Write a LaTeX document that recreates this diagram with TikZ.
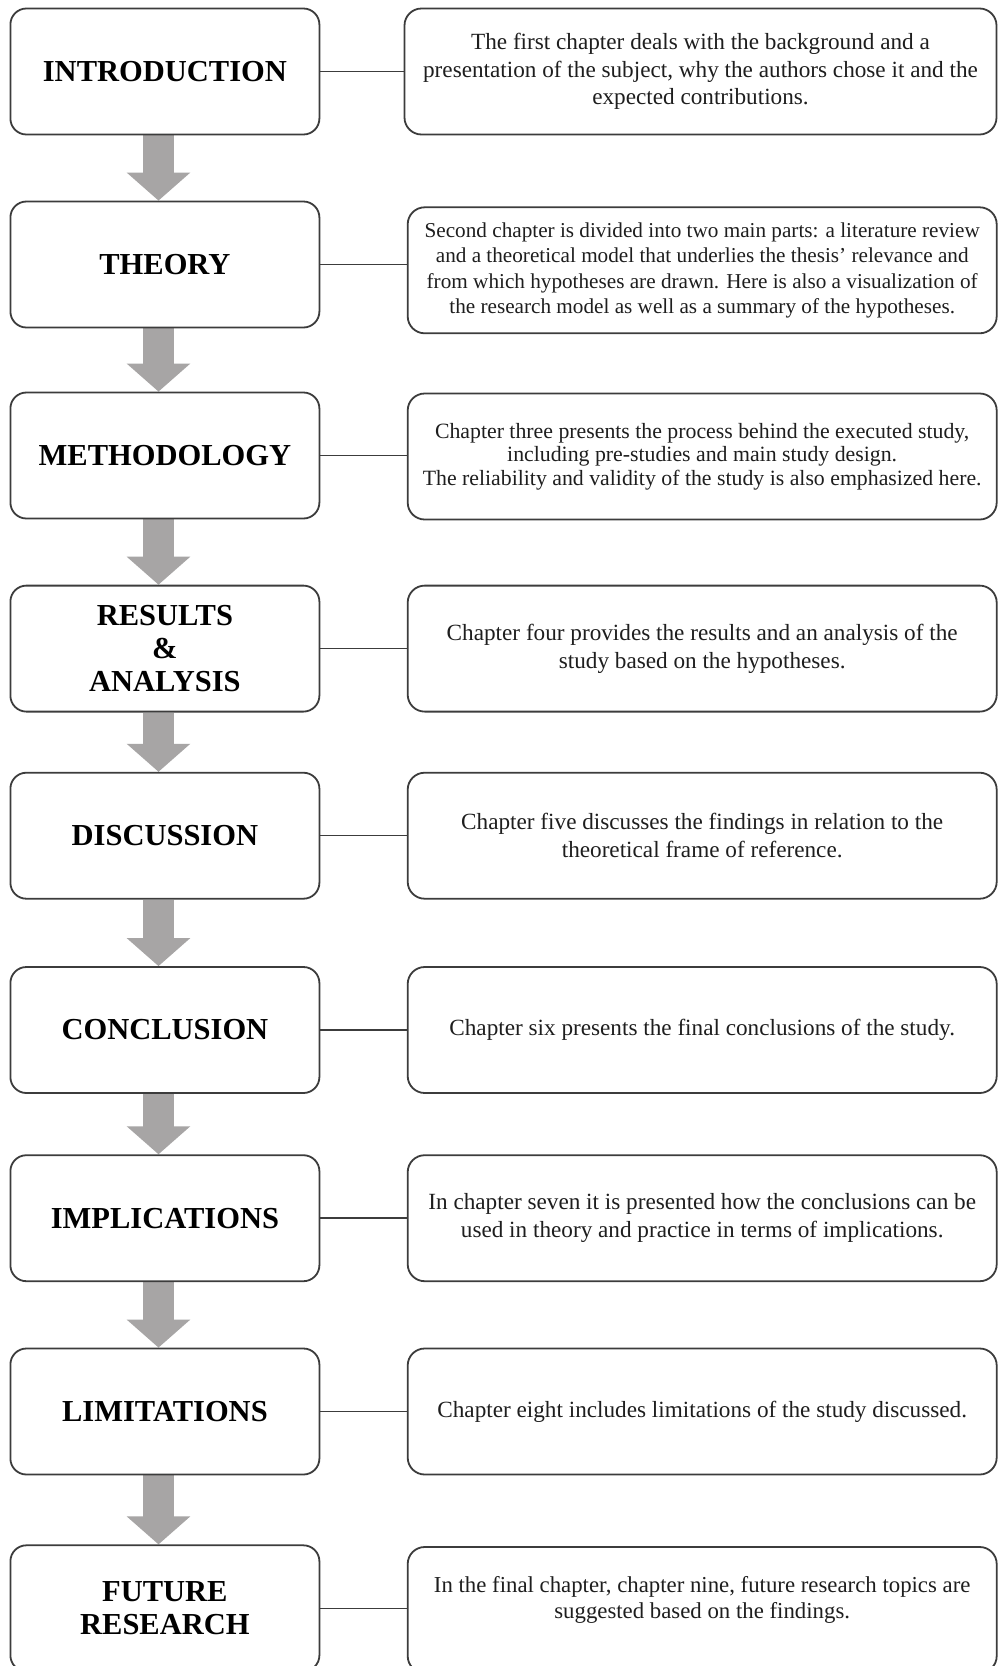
\documentclass[tikz,border=0pt]{standalone}
\usepackage{fontspec}
\setmainfont{Liberation Serif}
\usetikzlibrary{arrows.meta}
\pgfdeclarelayer{bg}
\pgfsetlayers{bg,main}
\definecolor{boxline}{HTML}{3C3C3C}
\definecolor{flowgray}{HTML}{A7A5A5}
\definecolor{notetext}{HTML}{1E1E1E}

\begin{document}
\begin{tikzpicture}[x=1pt,y=-1pt,
  stage/.style={draw=boxline, line width=1.8pt, rounded corners=16pt,
    minimum width=309pt, minimum height=126pt, inner sep=0pt, align=center,
    font=\fontsize{30.5}{33}\selectfont\bfseries, text=black},
  note/.style={draw=boxline, line width=1.8pt, rounded corners=17pt,
    minimum width=589pt, minimum height=126pt, inner sep=0pt, align=center,
    font=\fontsize{23.2}{27.6}\selectfont, text=notetext},
  link/.style={draw=boxline, line width=1.5pt},
  flow/.style={draw=flowgray, line width=31pt,
    -{Triangle[width=62pt,length=28pt]}},
]
\useasboundingbox (0,0) rectangle (997,1666);

% chapter boxes (left column)
\node[stage] (s1) at (164.9,71.5)   {INTRODUCTION};
\node[stage] (s2) at (164.9,264.5)  {THEORY};
\node[stage] (s3) at (164.9,455.5)  {METHODOLOGY};
\node[stage] (s4) at (164.9,648.6)  {RESULTS\\\&\\ANALYSIS};
\node[stage] (s5) at (164.9,835.7)  {DISCUSSION};
\node[stage] (s6) at (164.9,1030)   {CONCLUSION};
\node[stage] (s7) at (164.9,1218.2) {IMPLICATIONS};
\node[stage] (s8) at (164.9,1411.5) {LIMITATIONS};
\node[stage] (s9) at (164.9,1608.3) {FUTURE\\RESEARCH};

% chapter descriptions (right column)
\node[note, minimum width=592pt] (n1) at (700.5,71.5)
  {The first chapter deals with the background and a\\
   presentation of the subject, why the authors chose it and the\\
   expected contributions.};
\node[note, font=\fontsize{21.2}{25.5}\selectfont] (n2) at (702.2,270.3)
  {Second chapter is divided into two main parts: a literature review\\
   and a theoretical model that underlies the thesis’ relevance and\\
   from which hypotheses are drawn. Here is also a visualization of\\
   the research model as well as a summary of the hypotheses.};
\node[note, font=\fontsize{21.8}{23.4}\selectfont] (n3) at (702.2,456.5)
  {Chapter three presents the process behind the executed study,\\
   including pre-studies and main study design.\\
   The reliability and validity of the study is also emphasized here.};
\node[note] (n4) at (702.2,648.6)
  {Chapter four provides the results and an analysis of the\\
   study based on the hypotheses.};
\node[note] (n5) at (702.2,835.7)
  {Chapter five discusses the findings in relation to the\\
   theoretical frame of reference.};
\node[note] (n6) at (702.2,1030)
  {Chapter six presents the final conclusions of the study.};
\node[note] (n7) at (702.2,1218.2)
  {In chapter seven it is presented how the conclusions can be\\
   used in theory and practice in terms of implications.};
\node[note] (n8) at (702.2,1411.5)
  {Chapter eight includes limitations of the study discussed.};
\node[note, font=\fontsize{22.8}{26.6}\selectfont, text depth=25pt] (n9) at (702.2,1610)
  {In the final chapter, chapter nine, future research topics are\\
   suggested based on the findings.};

% links between each chapter and its description
\foreach \i in {1,...,9}
  \draw[link] (s\i.east) -- (s\i.east -| n\i.west);

% downward flow arrows, behind the boxes
\coordinate (axis) at (158.5,0);
\begin{pgfonlayer}{bg}
  \fill[white] (0,0) rectangle (997,1666);
  \foreach \i/\j in {1/2,2/3,3/4,4/5,5/6,6/7,7/8,8/9}
    \draw[flow] (s\i.south -| axis) -- (s\j.north -| axis);
\end{pgfonlayer}
\end{tikzpicture}
\end{document}
